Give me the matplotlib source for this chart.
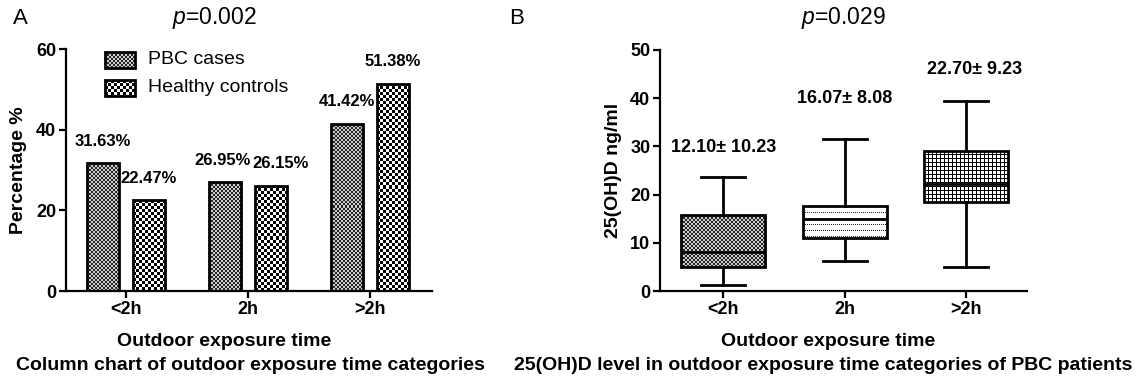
import numpy as np
import matplotlib
matplotlib.use('Agg')
import matplotlib.pyplot as plt
from matplotlib.patches import Rectangle

plt.rcParams['font.family'] = ['Liberation Sans', 'DejaVu Sans']
plt.rcParams['mathtext.fontset'] = 'custom'
plt.rcParams['mathtext.it'] = 'Liberation Sans:italic'
plt.rcParams['mathtext.rm'] = 'Liberation Sans'

# data
categories = ['<2h', '2h', '>2h']
pbc_pct = [31.63, 26.95, 41.42]
healthy_pct = [22.47, 26.15, 51.38]
series_names = ['PBC cases', 'Healthy controls']

# box stats of 25(OH)D
whislo = [1.2, 6.2, 5.0]
q1 = [5.0, 11.0, 18.4]
med = [8.0, 14.9, 22.3]
q3 = [15.7, 17.6, 29.1]
whishi = [23.6, 31.6, 39.5]
mean_sd = ['12.10\u00b1 10.23', '16.07\u00b1 8.08', '22.70\u00b1 9.23']
stat_label_y = [29.8, 39.9, 46.0]

p_a = '0.002'
p_b = '0.029'

W, H = 1146, 385
fig = plt.figure(figsize=(W / 100, H / 100), dpi=100)


def fpos(px, py):
    return px / W, 1 - py / H


# fill patterns (1 = black)
def checker(c):
    return np.kron(np.array([[1, 0], [0, 1]]), np.ones((c, c)))

fine = 0.2 + 0.65 * checker(2)
coarse = checker(3)
dots = np.zeros((6, 2))
dots[0, 0] = 0.85
grid = np.zeros((4, 4))
grid[0, :] = 1
grid[:, 0] = 1


def fill(ax, x0, x1, y0, y1, tile, clip):
    a = ax.transData.transform((x0, y0))
    b = ax.transData.transform((x1, y1))
    w = max(int(round(abs(b[0] - a[0]))), 1)
    h = max(int(round(abs(b[1] - a[1]))), 1)
    img = np.tile(tile, (h // tile.shape[0] + 1, w // tile.shape[1] + 1))[:h, :w]
    im = ax.imshow(1 - img, cmap='gray', vmin=0, vmax=1, extent=(x0, x1, y0, y1),
                   interpolation='nearest', aspect='auto', zorder=1)
    im.set_clip_path(clip)


def style_axes(ax, yticks):
    for s in ['top', 'right']:
        ax.spines[s].set_visible(False)
    for s in ['left', 'bottom']:
        ax.spines[s].set_linewidth(1.6)
    ax.tick_params(axis='both', width=1.6, length=5, labelsize=13, pad=2)
    ax.set_yticks(yticks)
    ax.set_xticks(range(len(categories)))
    ax.set_xticklabels(categories)
    for t in ax.get_xticklabels() + ax.get_yticklabels():
        t.set_fontweight('bold')


# ---- panel A
ax1 = fig.add_axes([66 / W, (H - 291) / H, (432 - 66) / W, (291 - 49) / H])
ax1.set_xlim(-0.49, 2.51)
ax1.set_ylim(0, 60)
ax1.set_autoscale_on(False)
style_axes(ax1, [0, 20, 40, 60])

x = np.arange(len(categories))
bw = 0.26
b1 = ax1.bar(x - 0.185, pbc_pct, bw, facecolor='none', edgecolor='black', linewidth=2, zorder=2)
b2 = ax1.bar(x + 0.19, healthy_pct, bw, facecolor='none', edgecolor='black', linewidth=2, zorder=2)
for bars, tile in [(b1, fine), (b2, coarse)]:
    for r in bars:
        fill(ax1, r.get_x(), r.get_x() + r.get_width(), 0, r.get_height(), tile, r)

label_dx = [[0, -2, 0], [0, 7, 0]]
for k, bars in enumerate([b1, b2]):
    for i, r in enumerate(bars):
        ax1.annotate('%.2f%%' % r.get_height(), (r.get_x() + r.get_width() / 2, r.get_height()),
                     xytext=(label_dx[k][i], 16), textcoords='offset points',
                     ha='center', va='center', fontsize=12, fontweight='bold')

# legend drawn by hand
inv = ax1.transData.inverted()
for (py0, py1), tile, name in [((52, 68), fine, series_names[0]), ((80, 96), coarse, series_names[1])]:
    x0, y0 = inv.transform((105, H - py1))
    x1, y1 = inv.transform((135, H - py0))
    rect = Rectangle((x0, y0), x1 - x0, y1 - y0, facecolor='none', edgecolor='black',
                     linewidth=2, zorder=2)
    ax1.add_patch(rect)
    fill(ax1, x0, x1, y0, y1, tile, rect)
    xt, yt = inv.transform((148, H - (py0 + py1) / 2))
    ax1.text(xt, yt, name, fontsize=14, va='center', ha='left')

# ---- panel B
ax2 = fig.add_axes([660 / W, (H - 291) / H, (1027 - 660) / W, (291 - 50) / H])
ax2.set_xlim(-0.52, 2.5)
ax2.set_ylim(0, 50)
ax2.set_autoscale_on(False)
style_axes(ax2, [0, 10, 20, 30, 40, 50])

stats = [dict(whislo=whislo[i], q1=q1[i], med=med[i], q3=q3[i], whishi=whishi[i], fliers=[])
         for i in range(len(categories))]
bp = ax2.bxp(stats, positions=x, widths=0.69, capwidths=0.36, patch_artist=True,
             showfliers=False,
             boxprops=dict(facecolor='none', edgecolor='black', linewidth=2),
             medianprops=dict(color='black', linewidth=2),
             whiskerprops=dict(color='black', linewidth=2),
             capprops=dict(color='black', linewidth=2))
for i, (box, tile) in enumerate(zip(bp['boxes'], [fine, dots, grid])):
    box.set_zorder(2)
    fill(ax2, x[i] - 0.345, x[i] + 0.345, q1[i], q3[i], tile, box)
for key in ['medians', 'whiskers', 'caps']:
    for ln in bp[key]:
        ln.set_zorder(3)
ax2.set_xticks(x)
ax2.set_xticklabels(categories)
for t in ax2.get_xticklabels():
    t.set_fontweight('bold')

for i, s in enumerate(mean_sd):
    ax2.text(x[i] + (0.07 if i == 2 else 0), stat_label_y[i], s, ha='center', va='center',
             fontsize=13, fontweight='bold')

# ---- figure texts
fig.text(*fpos(13, 19), 'A', fontsize=16, va='center', ha='left')
fig.text(*fpos(509, 19), 'B', fontsize=16, va='center', ha='left')
fig.text(*fpos(214, 18), r'$p$=' + p_a, fontsize=16.5, va='center', ha='center')
fig.text(*fpos(843, 18), r'$p$=' + p_b, fontsize=16.5, va='center', ha='center')

fig.text(*fpos(19, 170), 'Percentage %', rotation=90, fontsize=14, fontweight='bold',
         va='center', ha='center')
fig.text(*fpos(613, 170), '25(OH)D ng/ml', rotation=90, fontsize=14, fontweight='bold',
         va='center', ha='center')

fig.text(*fpos(224, 341), 'Outdoor exposure time', fontsize=14, fontweight='bold',
         va='center', ha='center')
fig.text(*fpos(828, 341), 'Outdoor exposure time', fontsize=14, fontweight='bold',
         va='center', ha='center')
fig.text(*fpos(250, 366), 'Column chart of outdoor exposure time categories', fontsize=14,
         fontweight='bold', va='center', ha='center')
fig.text(*fpos(823, 366), '25(OH)D level in outdoor exposure time categories of PBC patients',
         fontsize=14, fontweight='bold', va='center', ha='center')

fig.savefig('out.png', dpi=100)
